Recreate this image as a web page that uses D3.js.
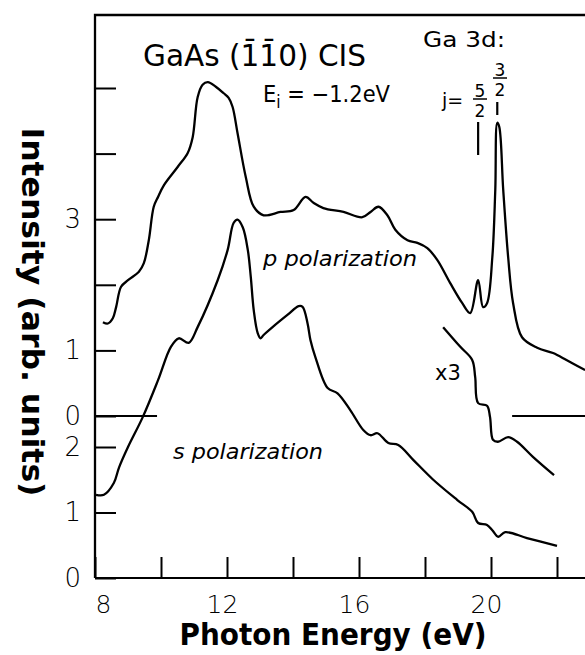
<!DOCTYPE html>
<html>
<head>
<meta charset="utf-8">
<script src="https://cdn.jsdelivr.net/npm/d3@7"></script>
<style>
  body { margin: 0; background: #fff; }
  text { font-family: "DejaVu Sans", sans-serif; fill: #000; }
</style>
</head>
<body>
<script>
var width = 585;
var height = 655;

// [photon energy (eV), intensity]
// p polarization, on the upper intensity scale
var pSpectrum = [[8.24,1.43],[8.39,1.41],[8.54,1.49],[8.64,1.66],[8.79,1.97],[9.00,2.07],[9.33,2.20],[9.48,2.33],
  [9.63,2.68],[9.78,3.19],[9.91,3.34],[10.09,3.52],[10.51,3.80],[10.81,4.01],[10.96,4.25],[11.11,4.86],[11.26,5.05],
  [11.42,5.09],[11.66,5.02],[11.90,4.92],[12.05,4.85],[12.17,4.71],[12.32,4.31],[12.57,3.64],[12.81,3.19],[13.11,3.06],
  [13.62,3.11],[14.02,3.14],[14.38,3.34],[14.62,3.25],[14.92,3.17],[15.53,3.11],[16.10,3.03],[16.35,3.11],[16.59,3.19],
  [16.86,3.06],[17.10,2.84],[17.47,2.68],[17.77,2.64],[18.07,2.56],[18.37,2.38],[18.76,2.03],[19.13,1.72],[19.37,1.57],
  [19.61,2.07],[19.76,1.66],[19.88,1.72],[20.04,2.42],[20.13,3.45],[20.19,4.47],[20.25,4.41],[20.37,3.45],[20.52,2.42],
  [20.67,1.72],[20.94,1.20],[21.40,1.04],[21.88,0.96],[22.30,0.85],[22.85,0.70]];

// s polarization, on the lower intensity scale
var sSpectrum = [[8.03,1.27],[8.27,1.27],[8.57,1.45],[8.73,1.69],[9.00,2.00],[9.45,2.46],[9.91,3.02],[10.30,3.53],
  [10.54,3.66],[10.84,3.59],[11.11,3.83],[11.72,4.55],[12.02,5.01],[12.20,5.42],[12.32,5.47],[12.48,5.35],[12.63,5.01],
  [12.72,4.60],[12.81,4.09],[12.93,3.74],[13.02,3.66],[13.11,3.71],[13.38,3.83],[13.84,4.02],[14.17,4.15],[14.29,4.14],
  [14.44,3.89],[14.53,3.63],[14.68,3.37],[15.05,2.90],[15.35,2.82],[15.74,2.56],[16.13,2.26],[16.35,2.18],[16.56,2.21],
  [16.89,2.06],[17.19,2.03],[17.65,1.80],[18.25,1.50],[18.98,1.19],[19.43,1.01],[19.61,0.84],[19.88,0.81],[20.04,0.73],
  [20.22,0.63],[20.43,0.70],[21.09,0.61],[22.00,0.49]];

// s polarization near Ga 3d, magnified x3
var sTimes3 = [[18.55,3.83],[19.07,3.53],[19.43,3.33],[19.52,3.07],[19.61,2.67],[19.88,2.63],[19.97,2.46],
  [20.06,2.11],[20.21,2.08],[20.52,2.15],[20.79,2.08],[21.27,1.85],[21.91,1.57]];

var xTicks = [8, 10, 12, 14, 16, 18, 20, 22];
var xLabels = [8, 12, 16, 20];
var pTicks = [0, 1, 2, 3, 4, 5];
var pLabels = [0, 1, 3];
var sTicks = [0, 1, 2];
var pZeroSegments = [[8, 9.88], [20.64, 22.85]];
var xMax = 22.85;

var x = d3.scaleLinear().domain([8, 22]).range([95, 557]);
var yP = d3.scaleLinear().domain([0, 5]).range([416, 88]);
var yS = d3.scaleLinear().domain([0, 2]).range([578, 447]);

var svg = d3.select("body").append("svg")
  .attr("width", width).attr("height", height)
  .style("background-color", "#fff");

// frame: top and left
svg.append("path")
  .attr("d", "M" + x(xMax) + ",15H" + x(8) + "V" + yS(0))
  .style("fill", "none").style("stroke", "#000").style("stroke-width", 2.2);

// bottom axis, ticks pointing up
var xAxis = d3.axisBottom(x)
  .tickValues(xTicks)
  .tickSizeInner(-21).tickSizeOuter(0).tickPadding(17)
  .tickFormat(function (d) { return xLabels.indexOf(d) >= 0 ? d : ""; });

var gx = svg.append("g").attr("transform", "translate(0," + yS(0) + ")").call(xAxis);
gx.select(".domain").attr("d", "M" + x(8) + ",0H" + x(xMax));
gx.selectAll("line").style("stroke-width", 2);
gx.selectAll(".domain").style("stroke-width", 2.2);
gx.selectAll("text")
  .style("font-size", "25px")
  .attr("dx", function (d) { return d === 8 ? 8 : -5; });

// left axis, two stacked scales
function leftAxis(scale, ticks, labels) {
  return d3.axisLeft(scale)
    .tickValues(ticks)
    .tickSizeInner(-21).tickSizeOuter(0).tickPadding(14)
    .tickFormat(function (d) { return labels.indexOf(d) >= 0 ? d : ""; });
}
var gp = svg.append("g").attr("transform", "translate(" + x(8) + ",0)").call(leftAxis(yP, pTicks, pLabels));
var gs = svg.append("g").attr("transform", "translate(" + x(8) + ",0)").call(leftAxis(yS, sTicks, sTicks));
[gp, gs].forEach(function (g) {
  g.select(".domain").remove();
  g.selectAll("line").style("stroke-width", 2);
  g.selectAll("text").style("font-size", "26px").attr("font-weight", 300);
});
gx.selectAll("text").attr("font-weight", 300);

// p zero baseline pieces
svg.selectAll(".zero").data(pZeroSegments).enter().append("line")
  .attr("class", "zero")
  .attr("x1", function (d) { return x(d[0]); })
  .attr("x2", function (d) { return x(d[1]); })
  .attr("y1", yP(0)).attr("y2", yP(0))
  .style("stroke", "#000").style("stroke-width", 2);

// spectra
var lineP = d3.line().x(function (d) { return x(d[0]); }).y(function (d) { return yP(d[1]); })
  .curve(d3.curveCatmullRom.alpha(0.5));
var lineS = d3.line().x(function (d) { return x(d[0]); }).y(function (d) { return yS(d[1]); })
  .curve(d3.curveCatmullRom.alpha(0.5));

svg.append("path").datum(pSpectrum).attr("d", lineP);
svg.append("path").datum(sSpectrum).attr("d", lineS);
svg.append("path").datum(sTimes3).attr("d", lineS);
svg.selectAll("path:not(.domain)")
  .filter(function () { return this.parentNode === svg.node(); })
  .style("fill", "none").style("stroke", "#000").style("stroke-width", 2.3);

// axis titles
svg.append("text")
  .attr("x", 333).attr("y", 645)
  .attr("text-anchor", "middle")
  .attr("textLength", 307).attr("lengthAdjust", "spacingAndGlyphs")
  .style("font-size", "31px").style("font-weight", "bold")
  .text("Photon Energy (eV)");

svg.append("text")
  .attr("transform", "translate(22,312) rotate(90)")
  .attr("text-anchor", "middle")
  .attr("textLength", 369).attr("lengthAdjust", "spacingAndGlyphs")
  .style("font-size", "31px").style("font-weight", "bold")
  .text("Intensity (arb. units)");

// annotations
svg.append("text")
  .attr("x", 143).attr("y", 66)
  .attr("textLength", 223).attr("lengthAdjust", "spacingAndGlyphs")
  .style("font-size", "30px")
  .text("GaAs (1\u03041\u03040) CIS");

var ei = svg.append("text").attr("x", 263).attr("y", 102)
  .attr("textLength", 127).attr("lengthAdjust", "spacingAndGlyphs")
  .style("font-size", "23px");
ei.append("tspan").text("E");
ei.append("tspan").attr("dy", 6).style("font-size", "17px").text("i");
ei.append("tspan").attr("dy", -6).text(" = \u22121.2eV");

svg.append("text")
  .attr("x", 423).attr("y", 47)
  .attr("textLength", 82).attr("lengthAdjust", "spacingAndGlyphs")
  .style("font-size", "21px")
  .text("Ga 3d:");

svg.append("text").attr("x", 442).attr("y", 107).style("font-size", "19px").text("j=");

// stacked fractions: numerator baseline, denominator 20px lower
var fractions = [{ num: "5", den: "2", cx: 480, base: 97 }, { num: "3", den: "2", cx: 500, base: 76 }];
fractions.forEach(function (f) {
  svg.append("text").attr("x", f.cx).attr("y", f.base).attr("text-anchor", "middle")
    .style("font-size", "17px").text(f.num);
  svg.append("line").attr("x1", f.cx - 7).attr("x2", f.cx + 7)
    .attr("y1", f.base + 2).attr("y2", f.base + 2)
    .style("stroke", "#000").style("stroke-width", 1.5);
  svg.append("text").attr("x", f.cx).attr("y", f.base + 20).attr("text-anchor", "middle")
    .style("font-size", "17px").text(f.den);
});

// j = 5/2 and 3/2 markers
var markers = [{ e: 19.61, y1: 122, y2: 155 }, { e: 20.19, y1: 102, y2: 115 }];
svg.selectAll(".marker").data(markers).enter().append("line")
  .attr("class", "marker")
  .attr("x1", function (d) { return x(d.e); }).attr("x2", function (d) { return x(d.e); })
  .attr("y1", function (d) { return d.y1; }).attr("y2", function (d) { return d.y2; })
  .style("stroke", "#000").style("stroke-width", 2.2);

svg.append("text")
  .attr("x", 263).attr("y", 266)
  .attr("textLength", 154).attr("lengthAdjust", "spacingAndGlyphs")
  .style("font-size", "21px").style("font-style", "italic")
  .text("p polarization");

svg.append("text")
  .attr("x", 173).attr("y", 459)
  .attr("textLength", 150).attr("lengthAdjust", "spacingAndGlyphs")
  .style("font-size", "21px").style("font-style", "italic")
  .text("s polarization");

svg.append("text")
  .attr("x", 435).attr("y", 380)
  .style("font-size", "21px")
  .text("x3");
</script>
</body>
</html>
